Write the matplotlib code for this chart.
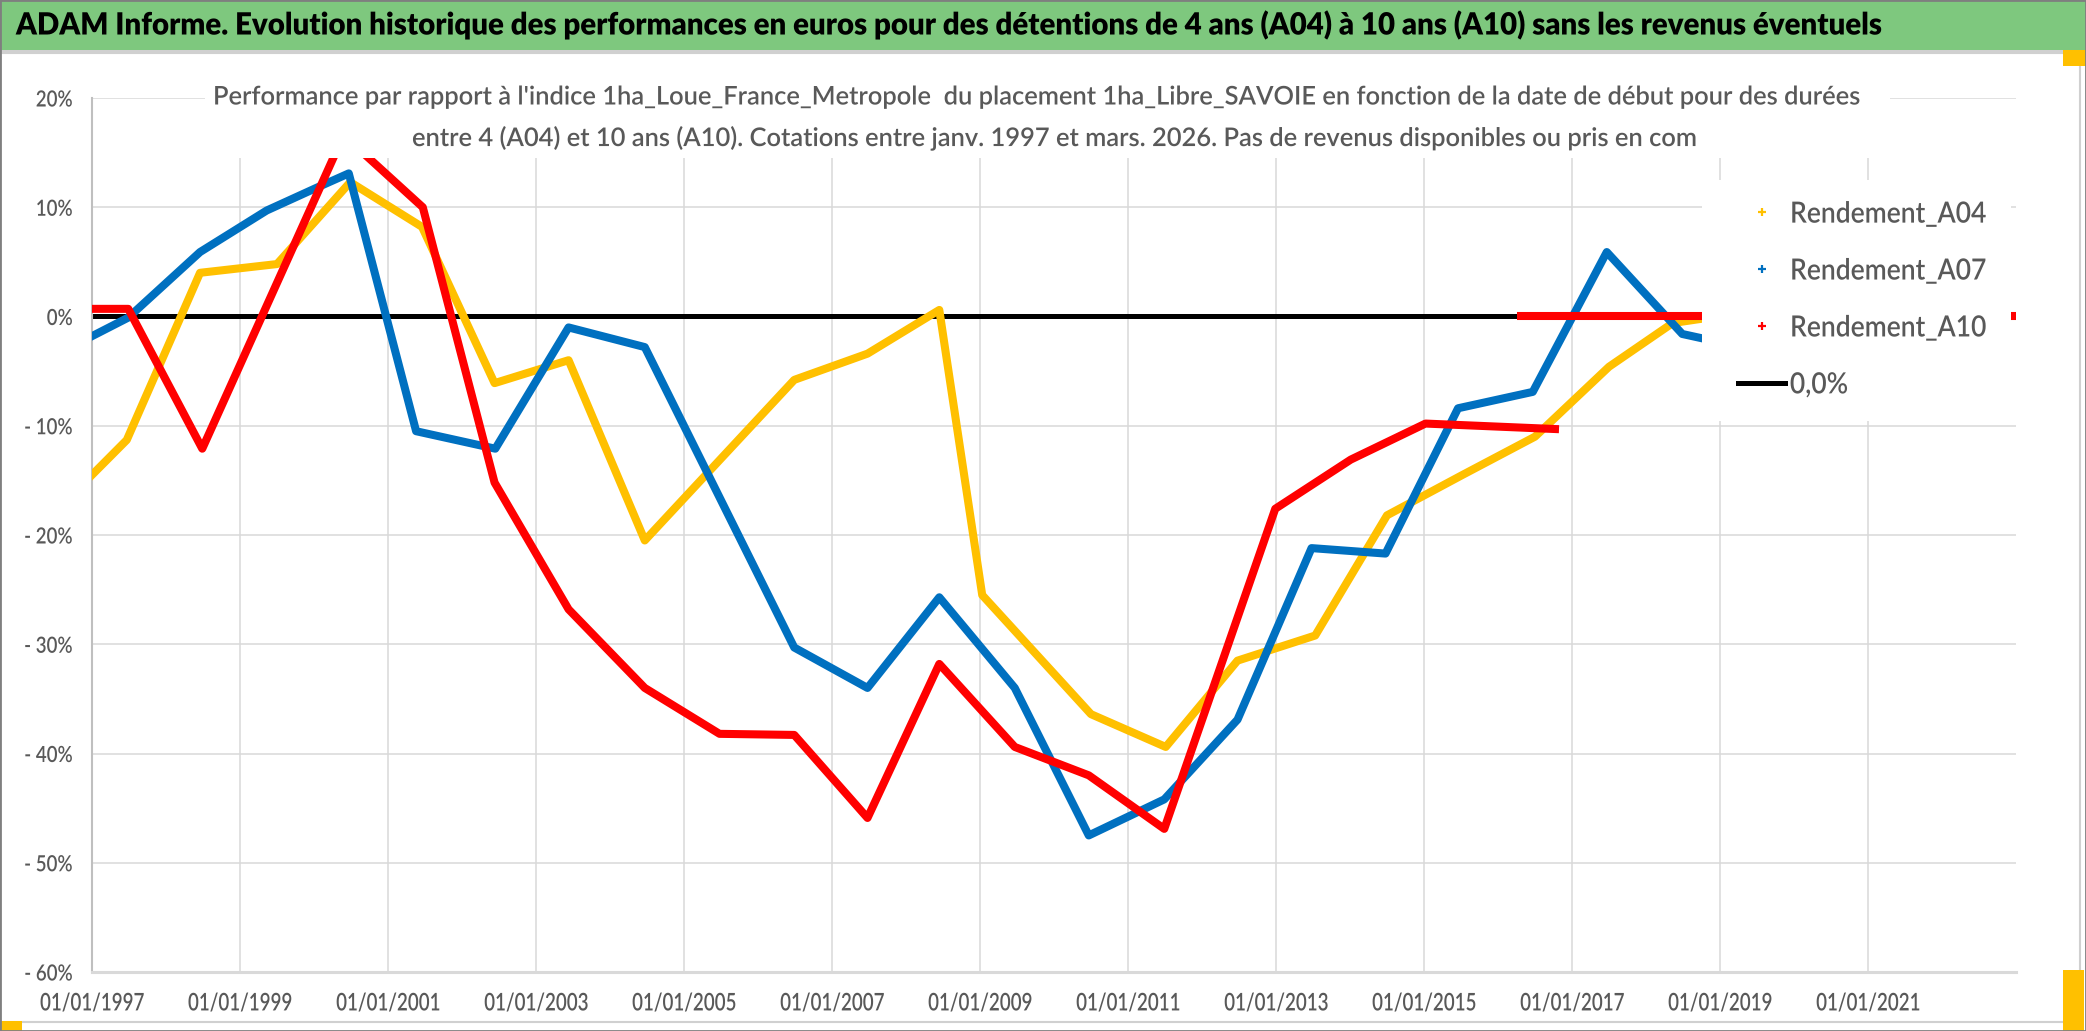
#!/usr/bin/env python3
"""
ADAM Informe - performance of 1ha_Libre_SAVOIE vs index, holding 4/7/10 years.
"""
import matplotlib
matplotlib.use("Agg")
import matplotlib.pyplot as plt
import matplotlib.patheffects as pe
from matplotlib.lines import Line2D
from matplotlib.patches import Rectangle
from matplotlib.ticker import FixedLocator, FuncFormatter
from matplotlib.transforms import Affine2D

W, H, DPI = 2086, 1031, 100

# start date (decimal year) -> relative performance (%)
a04_t = [1997.00, 1997.47, 1998.46, 1999.50, 2000.49, 2001.46, 2002.44, 2003.44,
         2004.47, 2006.49, 2007.48, 2008.45, 2009.03, 2010.50, 2011.51, 2012.48,
         2013.53, 2014.50, 2015.52, 2016.50, 2017.50, 2018.36, 2018.76]
a04_v = [-14.5, -11.3, 4.0, 4.8, 12.3, 8.2, -6.1, -4.0,
         -20.5, -5.8, -3.4, 0.6, -25.5, -36.4, -39.4, -31.5,
         -29.2, -18.2, -14.5, -11.0, -4.6, -0.6, -0.2]

a07_t = [1997.00, 1997.49, 1998.46, 1999.36, 2000.04, 2000.47, 2001.38, 2002.45,
         2003.44, 2004.47, 2006.49, 2007.48, 2008.45, 2009.47, 2010.47, 2011.49,
         2012.48, 2013.48, 2014.48, 2015.46, 2016.47, 2017.47, 2018.49, 2018.76]
a07_v = [-1.8, -0.1, 5.9, 9.7, 11.8, 13.1, -10.5, -12.1,
         -1.0, -2.8, -30.3, -34.0, -25.7, -34.0, -47.5, -44.2,
         -36.9, -21.2, -21.7, -8.4, -6.9, 5.9, -1.6, -2.0]

a10_t = [1997.00, 1997.49, 1998.49, 2000.40, 2001.47, 2002.44, 2003.44, 2004.47,
         2005.48, 2006.49, 2007.48, 2008.45, 2009.47, 2010.47, 2011.49, 2012.99,
         2014.01, 2015.02, 2016.77]
a10_v = [0.7, 0.7, -12.1, 16.6, 10.0, -15.2, -26.8, -34.0,
         -38.2, -38.3, -45.9, -31.8, -39.4, -42.0, -46.9, -17.6,
         -13.1, -9.8, -10.3]
# no data after the last quote: filled with 0
a10_zero_t = [2016.26, 2023.00]
a10_zero_v = [0.0, 0.0]

zero_t = [1997.0, 2023.0]
zero_v = [0.0, 0.0]

x_ticks = list(range(1997, 2022, 2))
y_ticks = list(range(-60, 21, 10))
labels = ["Rendement_A04", "Rendement_A07", "Rendement_A10", "0,0%"]

YELLOW, BLUE, RED = "#FFC000", "#0070C0", "#FF0000"
GREY_TXT = "#595959"
GRID = "#D9D9D9"

plt.rcParams["font.family"] = ["Lato", "DejaVu Sans"]
plt.rcParams["font.weight"] = "semibold"


class Squeeze(pe.AbstractPathEffect):
    """Narrow the glyphs horizontally (the source font is a condensed one)."""

    def __init__(self, sx, anchor="center"):
        super().__init__()
        self.sx, self.anchor = sx, anchor

    def draw_path(self, renderer, gc, tpath, affine, rgbFace=None):
        ext = tpath.get_extents(affine)
        x0 = {"left": ext.x0, "center": 0.5 * (ext.x0 + ext.x1), "right": ext.x1}[self.anchor]
        aff = affine + Affine2D().translate(-x0, 0).scale(self.sx, 1).translate(x0, 0)
        renderer.draw_path(gc, tpath, aff, rgbFace)


fig = plt.figure(figsize=(W / DPI, H / DPI), dpi=DPI)
fig.patch.set_facecolor("white")


def fx(x):
    return x / W


def fy(y):
    return 1 - y / H


# plot area: 1997 at x=92, 2023 at x=2016, +20% at y=98, -60% at y=972
ax = fig.add_axes([fx(92), fy(972), fx(2016 - 92), (972 - 98) / H])
ax.plot(zero_t, zero_v, color="black", lw=3.6, zorder=2, solid_capstyle="butt")
ax.plot(a04_t, a04_v, color=YELLOW, lw=5.8, zorder=3, solid_joinstyle="round")
ax.plot(a07_t, a07_v, color=BLUE, lw=5.8, zorder=4, solid_joinstyle="round")
ax.plot(a10_t, a10_v, color=RED, lw=5.8, zorder=5, solid_joinstyle="round")
ax.plot(a10_zero_t, a10_zero_v, color=RED, lw=5.8, zorder=5, solid_capstyle="butt")

ax.set_xlim(1997, 2023)
ax.set_ylim(-60, 20)
ax.xaxis.set_major_locator(FixedLocator(x_ticks))
ax.xaxis.set_major_formatter(FuncFormatter(lambda v, p: f"01/01/{int(round(v))}"))
ax.yaxis.set_major_locator(FixedLocator(y_ticks))
ax.yaxis.set_major_formatter(
    FuncFormatter(lambda v, p: f"{v:.0f}%" if v >= 0 else f"- {abs(v):.0f}%"))
ax.grid(True, color=GRID, lw=1.1, zorder=0)
ax.set_axisbelow(True)
for s in ("top", "right"):
    ax.spines[s].set_visible(False)
ax.spines["left"].set_color("#BFBFBF")
ax.spines["left"].set_linewidth(1.5)
ax.spines["bottom"].set_color(GRID)
ax.spines["bottom"].set_linewidth(2.2)
ax.tick_params(axis="both", length=0, colors=GREY_TXT)
ax.tick_params(axis="x", labelsize=17.5, pad=14)
ax.tick_params(axis="y", labelsize=16, pad=13.7)

# white legend area, it hides the end of the curves
ax.add_patch(Rectangle((2018.76, -9.6), 2022.93 - 2018.76, 12.5 + 9.6,
                       facecolor="white", edgecolor="none", zorder=6))
handles = [
    Line2D([], [], ls="none", marker="+", ms=6, mew=1.6, color=YELLOW),
    Line2D([], [], ls="none", marker="+", ms=6, mew=1.6, color=BLUE),
    Line2D([], [], ls="none", marker="+", ms=6, mew=1.6, color=RED),
    Line2D([], [], color="black", lw=3.6),
]
leg = ax.legend(handles, labels, loc="center left",
                bbox_to_anchor=(fx(1702), fy(300)), bbox_transform=fig.transFigure,
                fontsize=21, frameon=False, borderpad=1.24,
                borderaxespad=0, handlelength=1.6, handletextpad=0.17,
                labelspacing=1.06, labelcolor=GREY_TXT)
leg.set_zorder(7)

# green banner
fig.patches.append(Rectangle((0, fy(50)), 1, 50 / H, transform=fig.transFigure,
                             facecolor="#7EC87E", edgecolor="none", zorder=1))
fig.patches.append(Rectangle((0, fy(53)), 1, 3 / H, transform=fig.transFigure,
                             facecolor="#D0D0D0", edgecolor="none", zorder=1))
# white box of the chart title (hides what is behind it)
fig.patches.append(Rectangle((fx(205), fy(158)), fx(1890 - 205), (158 - 62) / H,
                             transform=fig.transFigure, facecolor="white",
                             edgecolor="none", zorder=1))
# chart border and selection marks
fig.patches.append(Rectangle((0, fy(1022)), fx(2080), (1022 - 53) / H,
                             transform=fig.transFigure, facecolor="none",
                             edgecolor="#D0D0D0", lw=1.5, zorder=1))
for x0, y0, x1, y1 in [(2063, 50, 2086, 66), (2063, 970, 2084, 1031), (0, 1021, 22, 1031)]:
    fig.patches.append(Rectangle((fx(x0), fy(y1)), fx(x1 - x0), (y1 - y0) / H,
                                 transform=fig.transFigure, facecolor="#FFC000",
                                 edgecolor="none", zorder=1))
fig.patches.append(Rectangle((0, 0), 1, 1, transform=fig.transFigure,
                             facecolor="none", edgecolor="#7F7F7F", lw=2, zorder=2))

title = fig.text(fx(16), fy(25), "ADAM Informe. Evolution historique des performances en euros "
                 "pour des détentions de 4 ans (A04) à 10 ans (A10) sans les revenus éventuels",
                 ha="left", va="center", fontsize=22, fontweight="heavy", color="black")
sub1 = fig.text(fx(1039), fy(97), "Performance par rapport à l'indice 1ha_Loue_France_Metropole  "
                "du placement 1ha_Libre_SAVOIE en fonction de la date de début pour des durées",
                ha="center", va="center", fontsize=18.5, color=GREY_TXT)
sub2 = fig.text(fx(412), fy(138), "entre 4 (A04) et 10 ans (A10). Cotations entre janv. 1997 et "
                "mars. 2026. Pas de revenus disponibles ou pris en com",
                ha="left", va="center", fontsize=18.5, color=GREY_TXT)

# narrow every text to the widths measured on the reference
fig.canvas.draw()
r = fig.canvas.get_renderer()


def squeeze(texts, ref_text, width, anchor):
    sx = width / ref_text.get_window_extent(r).width
    for t in texts:
        t.set_path_effects([Squeeze(sx, anchor)])


squeeze([title], title, 1864, "left")
squeeze([sub1], sub1, 1652, "center")
squeeze([sub2], sub1, 1652, "left")
xl = ax.get_xticklabels()
squeeze(xl, xl[0], 104, "center")
yl = ax.get_yticklabels()
squeeze(yl, yl[-1], 37, "right")
lt = leg.get_texts()
squeeze(lt, lt[0], 196, "left")

fig.savefig("out.png", dpi=DPI)
print("wrote out.png")
